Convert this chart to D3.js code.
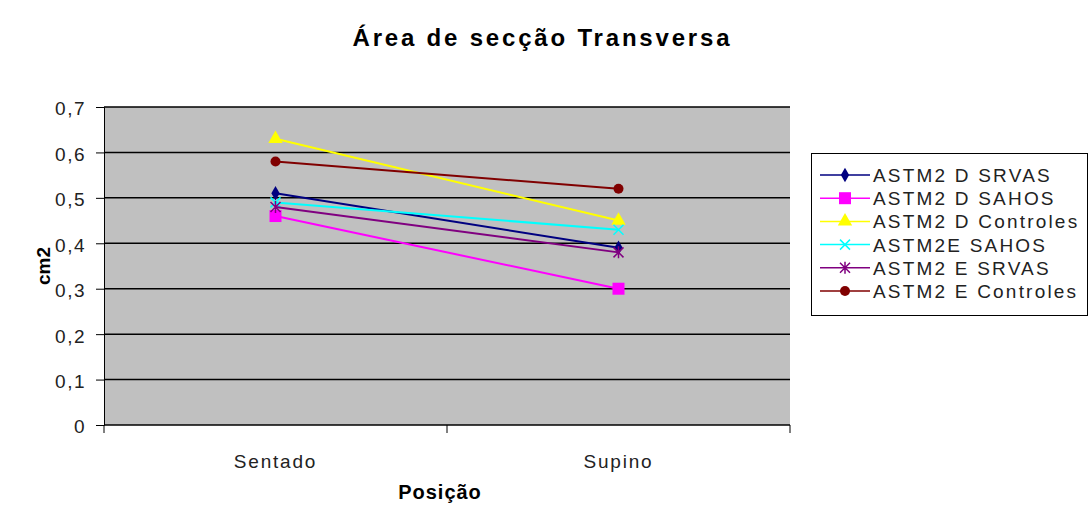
<!DOCTYPE html>
<html>
<head>
<meta charset="utf-8">
<script src="https://cdn.jsdelivr.net/npm/d3@7"></script>
<style>
  body { margin: 0; background: #fff; }
  text { font-family: "Liberation Sans", Arial, sans-serif; }
</style>
</head>
<body>
<div id="chart"></div>
<script>
// data
var categories = ['Sentado', 'Supino'];
var seriesNames = ['ASTM2 D SRVAS', 'ASTM2 D SAHOS', 'ASTM2 D Controles', 'ASTM2E SAHOS', 'ASTM2 E SRVAS', 'ASTM2 E Controles'];
var dSrvas = [0.51, 0.39];
var dSahos = [0.46, 0.30];
var dControles = [0.63, 0.45];
var eSahos = [0.49, 0.43];
var eSrvas = [0.48, 0.38];
var eControles = [0.58, 0.52];
var yTicks = [0, 0.1, 0.2, 0.3, 0.4, 0.5, 0.6, 0.7];

var seriesValues = [dSrvas, dSahos, dControles, eSahos, eSrvas, eControles];
var colors = ['#000080', '#ff00ff', '#ffff00', '#00ffff', '#800080', '#800000'];
var markers = ['diamond', 'square', 'triangle', 'cross', 'star', 'circle'];

var width = 1090, height = 515;
var plotL = 104, plotR = 790, plotT = 107, plotB = 425;

var svg = d3.select('#chart').append('svg')
    .attr('width', width)
    .attr('height', height);

var x = d3.scaleBand().domain(categories).range([plotL, plotR]);
var y = d3.scaleLinear().domain([0, 0.7]).range([plotB, plotT]);

// plot area
svg.append('rect')
    .attr('x', plotL).attr('y', plotT)
    .attr('width', plotR - plotL).attr('height', plotB - plotT)
    .attr('fill', '#c0c0c0');

// gridlines
svg.append('g').selectAll('line')
    .data(yTicks.filter(function(d) { return d > 0; }))
    .enter().append('line')
    .attr('x1', plotL).attr('x2', plotR)
    .attr('y1', function(d) { return y(d); })
    .attr('y2', function(d) { return y(d); })
    .attr('stroke', '#000').attr('stroke-width', 1.5);

var fmt = function(d) { return d === 0 ? '0' : d3.format('.1f')(d).replace('.', ','); };

// y axis
var yAxis = svg.append('g')
    .attr('transform', 'translate(' + plotL + ',0)')
    .call(d3.axisLeft(y).tickValues(yTicks).tickFormat(fmt).tickSizeOuter(0).tickSize(8));
yAxis.selectAll('text')
    .attr('font-size', 19).attr('letter-spacing', 1.5)
    .attr('font-family', '"Liberation Sans", Arial, sans-serif')
    .attr('fill', '#222').attr('dx', '-7').attr('dy', '0.42em');
yAxis.select('.domain').attr('stroke', '#000');

// x axis: ticks on category boundaries
var xAxis = svg.append('g')
    .attr('transform', 'translate(0,' + plotB + ')');
xAxis.append('line').attr('x1', plotL).attr('x2', plotR).attr('stroke', '#000').attr('stroke-width', 1.5);
xAxis.selectAll('.tk')
    .data([plotL, plotL + x.bandwidth(), plotR])
    .enter().append('line')
    .attr('x1', function(d) { return d; }).attr('x2', function(d) { return d; })
    .attr('y1', 0).attr('y2', 8)
    .attr('stroke', '#000');
xAxis.selectAll('.lbl')
    .data(categories)
    .enter().append('text')
    .attr('x', function(d) { return x(d) + x.bandwidth() / 2; })
    .attr('y', 43)
    .attr('text-anchor', 'middle')
    .attr('font-size', 19).attr('letter-spacing', 1.8)
    .attr('fill', '#222')
    .text(function(d) { return d; });

// titles
svg.append('text')
    .attr('x', 541).attr('y', 46)
    .attr('text-anchor', 'middle')
    .attr('font-size', 24).attr('font-weight', 'bold')
    .attr('textLength', 377).attr('lengthAdjust', 'spacing')
    .text('Área de secção Transversa');
svg.append('text')
    .attr('x', 440).attr('y', 499)
    .attr('text-anchor', 'middle')
    .attr('font-size', 20).attr('font-weight', 'bold')
    .attr('letter-spacing', 1)
    .text('Posição');
svg.append('text')
    .attr('transform', 'translate(50,266) rotate(-90)')
    .attr('text-anchor', 'middle')
    .attr('font-size', 19).attr('font-weight', 'bold')
    .text('cm2');

function drawMarker(g, type, color, cx, cy) {
  if (type === 'diamond') {
    g.append('path').attr('d', d3.symbol().type(d3.symbolDiamond).size(60)())
      .attr('transform', 'translate(' + cx + ',' + cy + ')').attr('fill', color);
  } else if (type === 'square') {
    g.append('rect').attr('x', cx - 6).attr('y', cy - 6).attr('width', 12).attr('height', 12).attr('fill', color);
  } else if (type === 'triangle') {
    g.append('path').attr('d', d3.symbol().type(d3.symbolTriangle).size(90)())
      .attr('transform', 'translate(' + cx + ',' + cy + ')').attr('fill', color);
  } else if (type === 'cross') {
    g.append('path').attr('d', 'M-5,-5L5,5M-5,5L5,-5')
      .attr('transform', 'translate(' + cx + ',' + cy + ')').attr('stroke', color).attr('stroke-width', 1.5);
  } else if (type === 'star') {
    g.append('path').attr('d', 'M-5,-5L5,5M-5,5L5,-5M0,-6L0,6')
      .attr('transform', 'translate(' + cx + ',' + cy + ')').attr('stroke', color).attr('stroke-width', 1.5);
  } else {
    g.append('circle').attr('cx', cx).attr('cy', cy).attr('r', 5).attr('fill', color);
  }
}

var line = d3.line()
    .x(function(d, i) { return x(categories[i]) + x.bandwidth() / 2; })
    .y(function(d) { return y(d); });

seriesValues.forEach(function(vals, s) {
  var g = svg.append('g');
  g.append('path').attr('d', line(vals))
    .attr('fill', 'none').attr('stroke', colors[s]).attr('stroke-width', 2);
  vals.forEach(function(v, i) {
    drawMarker(g, markers[s], colors[s], x(categories[i]) + x.bandwidth() / 2, y(v));
  });
});

// legend
var lg = svg.append('g');
lg.append('rect')
    .attr('x', 811.5).attr('y', 153.5).attr('width', 276).attr('height', 162)
    .attr('fill', '#fff').attr('stroke', '#000');
seriesNames.forEach(function(name, s) {
  var ly = 175 + s * 23.2;
  lg.append('line').attr('x1', 820).attr('x2', 870).attr('y1', ly).attr('y2', ly)
    .attr('stroke', colors[s]).attr('stroke-width', 1.5);
  drawMarker(lg, markers[s], colors[s], 845, ly);
  lg.append('text').attr('x', 873).attr('y', ly + 7)
    .attr('font-size', 19).attr('letter-spacing', 2.2)
    .attr('fill', '#222')
    .text(name);
});
</script>
</body>
</html>
